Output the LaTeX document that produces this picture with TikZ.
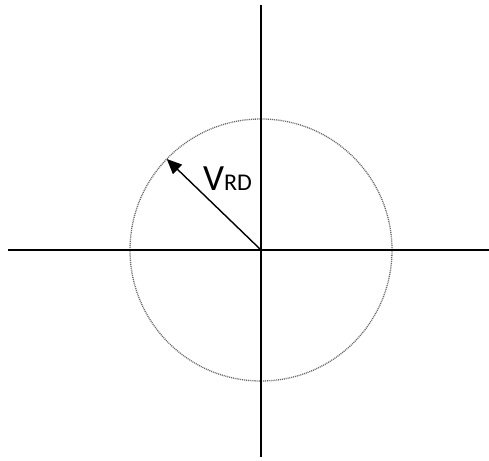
\documentclass[tikz,border=0pt]{standalone}
\usepackage{fontspec}
\setmainfont{Carlito}
\usepackage{tikz}
\usetikzlibrary{arrows.meta,calc}

\tikzset{
  axis/.style={line width=1.4pt, black},
  ring/.style={black!60, line width=1.3pt, dash pattern=on 1pt off 0.9pt},
  vec/.style={line width=1.4pt, -{Triangle[length=15pt,width=13pt]}},
}

\begin{document}
\begin{tikzpicture}[x=1pt,y=1pt]
            \useasboundingbox (0,0) rectangle (489,460);
            \coordinate (o) at (261,210);
            \coordinate (top) at (261,455);
            \coordinate (bot) at (261,3);
            \coordinate (left) at (8,210);
            \coordinate (right) at (489,210);
            \coordinate (tip) at ($(o)+(136:131)$);

            \draw[ring] (o) circle (131);
            \draw[axis] (top) -- (bot);
            \draw[axis] (left) -- (right);
            \draw[vec] (o) -- (tip);

            \node[anchor=base west, inner sep=0pt] (vrd) at (203,269)
              {\fontsize{37}{37}\selectfont V\fontsize{24}{24}\selectfont RD};
         \end{tikzpicture}
\end{document}
